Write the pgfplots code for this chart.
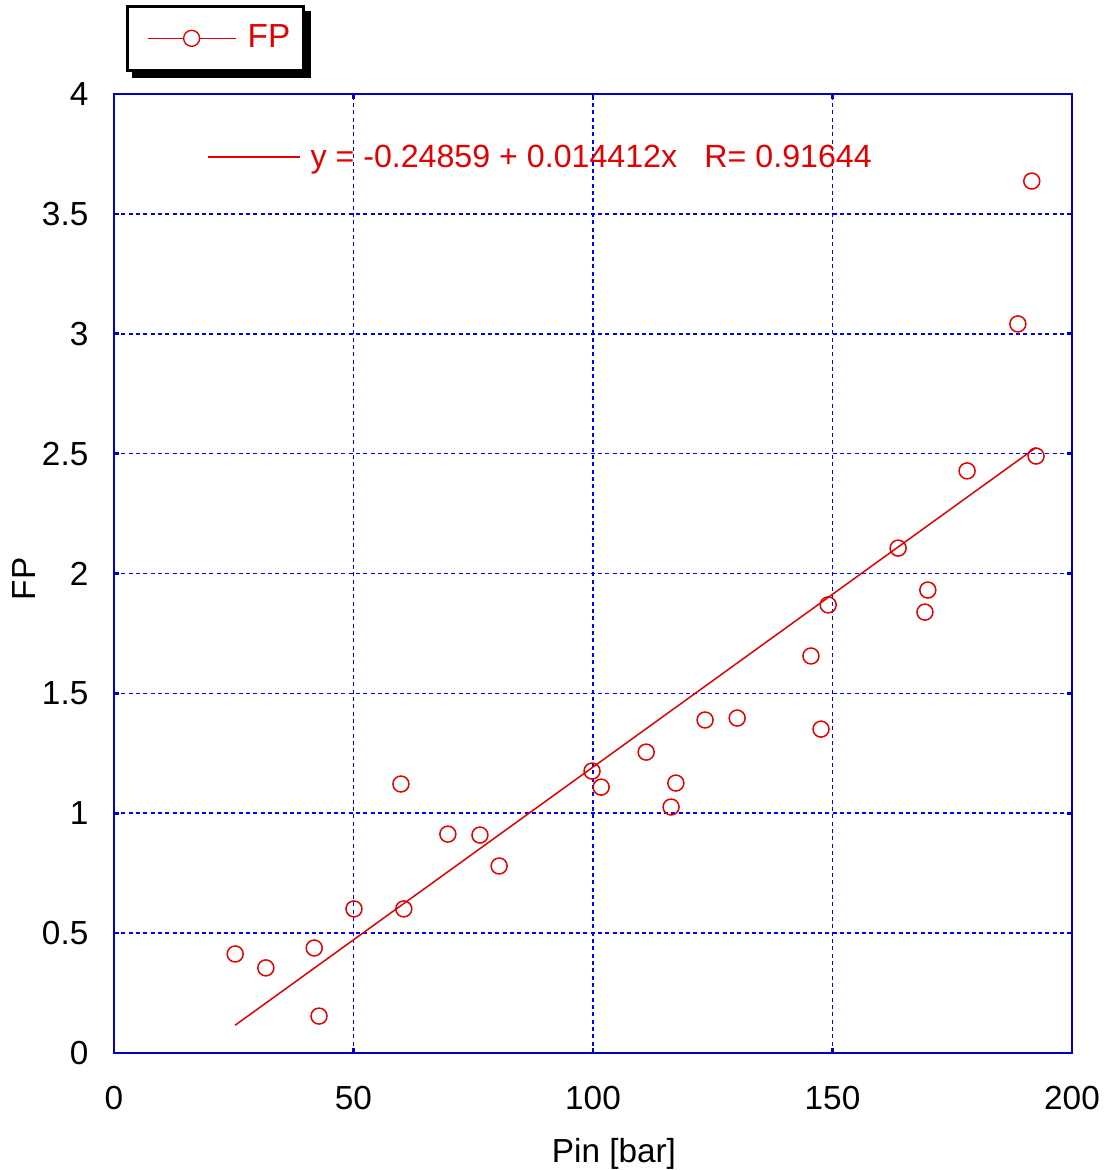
\documentclass[border=0pt]{standalone}
\usepackage{fontspec}
\setmainfont{Liberation Sans}
\usepackage{pgfplots}
\pgfplotsset{compat=1.18}
\usetikzlibrary{backgrounds}
\definecolor{axblue}{RGB}{0,0,204}
\definecolor{gridblue}{RGB}{0,0,255}
\definecolor{fpred}{RGB}{228,0,0}
\begin{document}
\begin{tikzpicture}[x=1pt,y=1pt]
\useasboundingbox (-34.2,-35.1) rectangle (297.3,315.9);
\begin{axis}[
  at={(0,0)}, anchor=south west,
  scale only axis, width=287.4pt, height=287.7pt,
  xmin=0, xmax=200, ymin=0, ymax=4,
  xtick={0,50,100,150,200},
  ytick={0,0.5,1,1.5,2,2.5,3,3.5,4},
  /pgf/number format/assume math mode=true,
  axis line style={axblue, line width=0.8pt},
  tick style={axblue, line width=0.8pt},
  major tick length=1.5pt,
  tick align=inside,
  grid=major,
  major grid style={draw=gridblue, dash pattern=on 1.2pt off 1.0pt, line width=0.5pt},
  tick label style={font=\fontsize{10}{12}\selectfont, black},
  xticklabel style={anchor=center, yshift=-13.5pt},
  yticklabel style={anchor=east, inner sep=0pt, xshift=-7.5pt},
  xlabel={Pin [bar]}, ylabel={FP},
  label style={font=\fontsize{10}{12}\selectfont, black},
  xlabel style={at={(axis description cs:0.5219,-0.105)}, anchor=center},
  ylabel style={at={(axis description cs:-0.0934,0.4943)}, anchor=center},
  legend style={name=leg, at={(axis description cs:0.0125,1.0928)}, anchor=north west,
    draw=black, line width=0.8pt, fill=white,
    font=\fontsize{10}{12}\selectfont, text=fpred,
    nodes={inner sep=0pt},
    inner xsep=4pt, inner ysep=5.4pt},
  legend image code/.code={
    \path[draw=none, fill=none] (-2.1pt,0pt) -- (30pt,0pt);
    \draw[draw=fpred, line width=0.4pt] (0pt,0pt) -- (26.4pt,0pt);
    \draw[draw=fpred, line width=0.4pt, fill=white] (13.2pt,0pt) circle (2.4pt);
  },
]
\addplot[fpred, line width=0.45pt, forget plot] coordinates {(25.3,0.11603) (192.5,2.52572)};
\addplot[only marks, mark=o, mark size=2.4pt, mark options={fpred, line width=0.45pt}] coordinates {
(25.3,0.413) (31.7,0.355) (41.8,0.438) (42.8,0.154) (50.1,0.601)
(59.9,1.122) (60.5,0.601) (69.7,0.913) (76.4,0.909) (80.4,0.780)
(99.8,1.176) (101.7,1.109) (111.1,1.255) (116.3,1.026) (117.3,1.126)
(123.4,1.389) (130.1,1.397) (145.5,1.656) (147.6,1.351) (149.1,1.869)
(163.7,2.106) (169.3,1.839) (169.9,1.931) (178.1,2.428) (188.7,3.041)
(191.6,3.637) (192.5,2.490)
};
\addlegendentry{FP}
\draw[fpred, line width=0.45pt] (axis cs:19.6,3.737) -- (axis cs:38.8,3.737);
\node[anchor=base west, inner sep=0pt, text=fpred, font=\fontsize{9.65}{11.5}\selectfont] at (axis cs:40.9,3.695) {y = -0.24859 + 0.014412x\hspace{0.85em}R= 0.91644};
\end{axis}
\begin{scope}[on background layer]
\fill[black] ([xshift=1.8pt,yshift=-1.8pt]leg.south west) rectangle ([xshift=1.8pt,yshift=-1.8pt]leg.north east);
\end{scope}
\end{tikzpicture}
\end{document}
